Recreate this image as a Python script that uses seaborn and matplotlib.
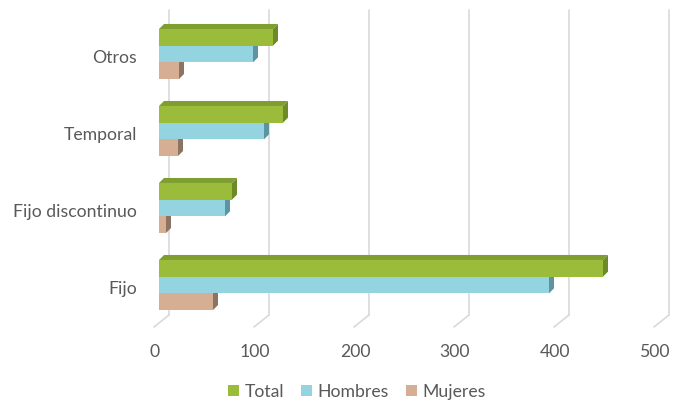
import matplotlib
matplotlib.use("Agg")
import matplotlib.pyplot as plt
import matplotlib.transforms as mtransforms
from matplotlib.patches import Polygon, Patch
from matplotlib.lines import Line2D
import pandas as pd
import seaborn as sns

# Contratos por tipo y sexo
categories = ["Otros", "Temporal", "Fijo discontinuo", "Fijo"]
series = ["Total", "Hombres", "Mujeres"]
total = [114, 124, 73, 444]
hombres = [94, 105, 66, 390]
mujeres = [20, 19, 7, 54]
xticks = [0, 100, 200, 300, 400, 500]

front_colors = {"Total": "#9BBB3B", "Hombres": "#93D4E0", "Mujeres": "#D5AE93"}
top_colors = {"Total": "#7F9E30", "Hombres": "#78B4C0", "Mujeres": "#B5957D"}
side_colors = {"Total": "#6E8A28", "Hombres": "#5E93A1", "Mujeres": "#8D7462"}
text_color = "#595959"
grid_color = "#D9D9D9"

df = pd.DataFrame({"tipo": categories, "Total": total,
                   "Hombres": hombres, "Mujeres": mujeres})
df = df.melt(id_vars="tipo", var_name="serie", value_name="valor")

sns.set_style("white")
plt.rcParams["font.family"] = ["Lato", "DejaVu Sans"]
FS = 12.7

W, H = 681, 400
fig = plt.figure(figsize=(W / 100, H / 100), dpi=100)
ax = fig.add_axes([159 / W, (H - 323.5) / H, 500 / W, 308 / H])

sns.barplot(data=df, x="valor", y="tipo", hue="serie", order=categories,
            hue_order=series, palette=front_colors, orient="h", width=0.65,
            saturation=1, errorbar=None, legend=False, ax=ax, zorder=3,
            linewidth=0)
ax.set_xlim(0, 500)
ax.set_ylim(3.5, -0.5)
ax.axis("off")

ident = mtransforms.IdentityTransform()
D = 5  # depth of the bars in pixels

# depth faces (top and end) for every bar
for name, cont in zip(series, ax.containers):
    for rect in cont.patches:
        x0, y0 = rect.get_x(), rect.get_y()
        (l, b), (r, t) = ax.transData.transform(
            [[x0, y0 + rect.get_height()], [x0 + rect.get_width(), y0]])
        top = Polygon([(l, t), (r, t), (r + D, t + D), (l + D, t + D)],
                      closed=True, transform=ident, clip_on=False,
                      facecolor=top_colors[name], edgecolor="none", zorder=2)
        side = Polygon([(r, b), (r, t), (r + D, t + D), (r + D, b + D)],
                       closed=True, transform=ident, clip_on=False,
                       facecolor=side_colors[name], edgecolor="none", zorder=2)
        ax.add_patch(top)
        ax.add_patch(side)

# back-wall gridlines, floor edges and value labels
for v in xticks:
    xd = ax.transData.transform([[v, 0]])[0][0]
    ax.add_line(Line2D([xd + 10, xd + 10], [H - 10, H - 315], transform=ident,
                       color=grid_color, lw=1.2, clip_on=False, zorder=1))
    ax.add_line(Line2D([xd + 10, xd - 5], [H - 315, H - 327], transform=ident,
                       color=grid_color, lw=1.2, clip_on=False, zorder=1))
    ax.text(xd - 4, H - 352, f"{v}", transform=ident, ha="center",
            va="center", fontsize=FS, color=text_color)

# category labels
for i, cat in enumerate(categories):
    yd = ax.transData.transform([[0, i]])[0][1]
    ax.text(137, yd - 4, cat, transform=ident, ha="right", va="center",
            fontsize=FS, color=text_color)

handles = [Patch(facecolor=front_colors[s], edgecolor="none", label=s)
           for s in series]
fig.legend(handles=handles, loc="center", bbox_to_anchor=(357 / W, 1 - 392 / H),
           ncol=3, frameon=False, fontsize=FS, handlelength=0.6,
           handleheight=0.6, handletextpad=0.3, columnspacing=1.0,
           labelcolor=text_color)

fig.savefig("out.png", dpi=100)
